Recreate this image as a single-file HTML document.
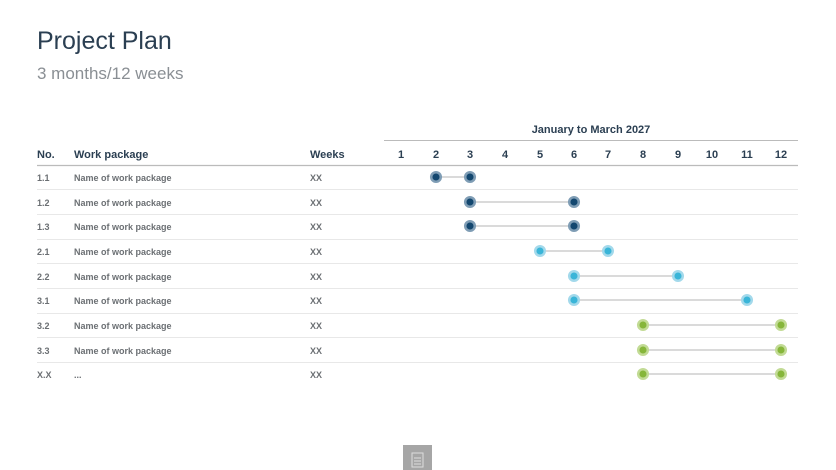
<!DOCTYPE html>
<html><head><style>
body{margin:0;width:836px;height:470px;background:#fff;font-family:"Liberation Sans",sans-serif;position:relative;overflow:hidden}
.t{position:absolute;white-space:nowrap}
</style></head><body>
<div class="t" style="left:37px;top:27px;font-size:25px;color:#2b3f52">Project Plan</div>
<div class="t" style="left:37px;top:64px;font-size:17px;color:#8a8f94">3 months/12 weeks</div>
<svg width="836" height="470" style="position:absolute;left:0;top:0" font-family="Liberation Sans, sans-serif">
<text x="591" y="133" font-size="11" font-weight="bold" fill="#2b3f52" text-anchor="middle">January to March 2027</text>
<line x1="384" y1="140.5" x2="798" y2="140.5" stroke="#bbb" stroke-width="1"/>
<g font-size="11" font-weight="bold" fill="#2b3f52">
<text x="37" y="158">No.</text><text x="74" y="158">Work package</text><text x="310" y="158">Weeks</text>
<g text-anchor="middle">
<text x="401" y="158">1</text><text x="436" y="158">2</text><text x="470" y="158">3</text><text x="505" y="158">4</text><text x="540" y="158">5</text><text x="574" y="158">6</text><text x="608" y="158">7</text><text x="643" y="158">8</text><text x="678" y="158">9</text><text x="712" y="158">10</text><text x="747" y="158">11</text><text x="781" y="158">12</text>
</g></g>
<line x1="37" y1="165.5" x2="798" y2="165.5" stroke="#bbb" stroke-width="1.2"/>
<g stroke="#e8e8e8" stroke-width="1">
<line x1="37" y1="189.5" x2="798" y2="189.5"/><line x1="37" y1="214.5" x2="798" y2="214.5"/><line x1="37" y1="239.5" x2="798" y2="239.5"/><line x1="37" y1="263.5" x2="798" y2="263.5"/><line x1="37" y1="288.5" x2="798" y2="288.5"/><line x1="37" y1="313.5" x2="798" y2="313.5"/><line x1="37" y1="337.5" x2="798" y2="337.5"/><line x1="37" y1="362.5" x2="798" y2="362.5"/>
</g>
<g font-size="9" font-weight="bold" fill="#6b6f73">
<text x="37" y="181">1.1</text><text x="74" y="181">Name of work package</text><text x="310" y="181">XX</text>
<text x="37" y="206">1.2</text><text x="74" y="206">Name of work package</text><text x="310" y="206">XX</text>
<text x="37" y="230">1.3</text><text x="74" y="230">Name of work package</text><text x="310" y="230">XX</text>
<text x="37" y="255">2.1</text><text x="74" y="255">Name of work package</text><text x="310" y="255">XX</text>
<text x="37" y="280">2.2</text><text x="74" y="280">Name of work package</text><text x="310" y="280">XX</text>
<text x="37" y="304">3.1</text><text x="74" y="304">Name of work package</text><text x="310" y="304">XX</text>
<text x="37" y="329">3.2</text><text x="74" y="329">Name of work package</text><text x="310" y="329">XX</text>
<text x="37" y="354">3.3</text><text x="74" y="354">Name of work package</text><text x="310" y="354">XX</text>
<text x="37" y="378">X.X</text><text x="74" y="378">...</text><text x="310" y="378">XX</text>
</g>
<g stroke="#b5b5b5" stroke-width="1">
<line x1="436" y1="177" x2="470" y2="177"/><line x1="470" y1="202" x2="574" y2="202"/><line x1="470" y1="226" x2="574" y2="226"/>
<line x1="540" y1="251" x2="608" y2="251"/><line x1="574" y1="276" x2="678" y2="276"/><line x1="574" y1="300" x2="747" y2="300"/>
<line x1="643" y1="325" x2="781" y2="325"/><line x1="643" y1="350" x2="781" y2="350"/><line x1="643" y1="374" x2="781" y2="374"/>
</g>
<g fill="#13476f" stroke="#7f9db5" stroke-width="2.5">
<circle cx="436" cy="177" r="4.8"/><circle cx="470" cy="177" r="4.8"/><circle cx="470" cy="202" r="4.8"/><circle cx="574" cy="202" r="4.8"/><circle cx="470" cy="226" r="4.8"/><circle cx="574" cy="226" r="4.8"/>
</g>
<g fill="#3ab5d8" stroke="#a3d9eb" stroke-width="2.5">
<circle cx="540" cy="251" r="4.8"/><circle cx="608" cy="251" r="4.8"/><circle cx="574" cy="276" r="4.8"/><circle cx="678" cy="276" r="4.8"/><circle cx="574" cy="300" r="4.8"/><circle cx="747" cy="300" r="4.8"/>
</g>
<g fill="#86b63a" stroke="#c2db95" stroke-width="2.5">
<circle cx="643" cy="325" r="4.8"/><circle cx="781" cy="325" r="4.8"/><circle cx="643" cy="350" r="4.8"/><circle cx="781" cy="350" r="4.8"/><circle cx="643" cy="374" r="4.8"/><circle cx="781" cy="374" r="4.8"/>
</g>
<rect x="403" y="445" width="29" height="25" fill="#a6a6a6"/>
<rect x="412" y="453" width="11" height="14" fill="none" stroke="#ddd" stroke-width="1"/>
<line x1="414" y1="458" x2="421" y2="458" stroke="#ddd"/><line x1="414" y1="461" x2="421" y2="461" stroke="#ddd"/><line x1="414" y1="464" x2="421" y2="464" stroke="#ddd"/>
</svg>
</body></html>
